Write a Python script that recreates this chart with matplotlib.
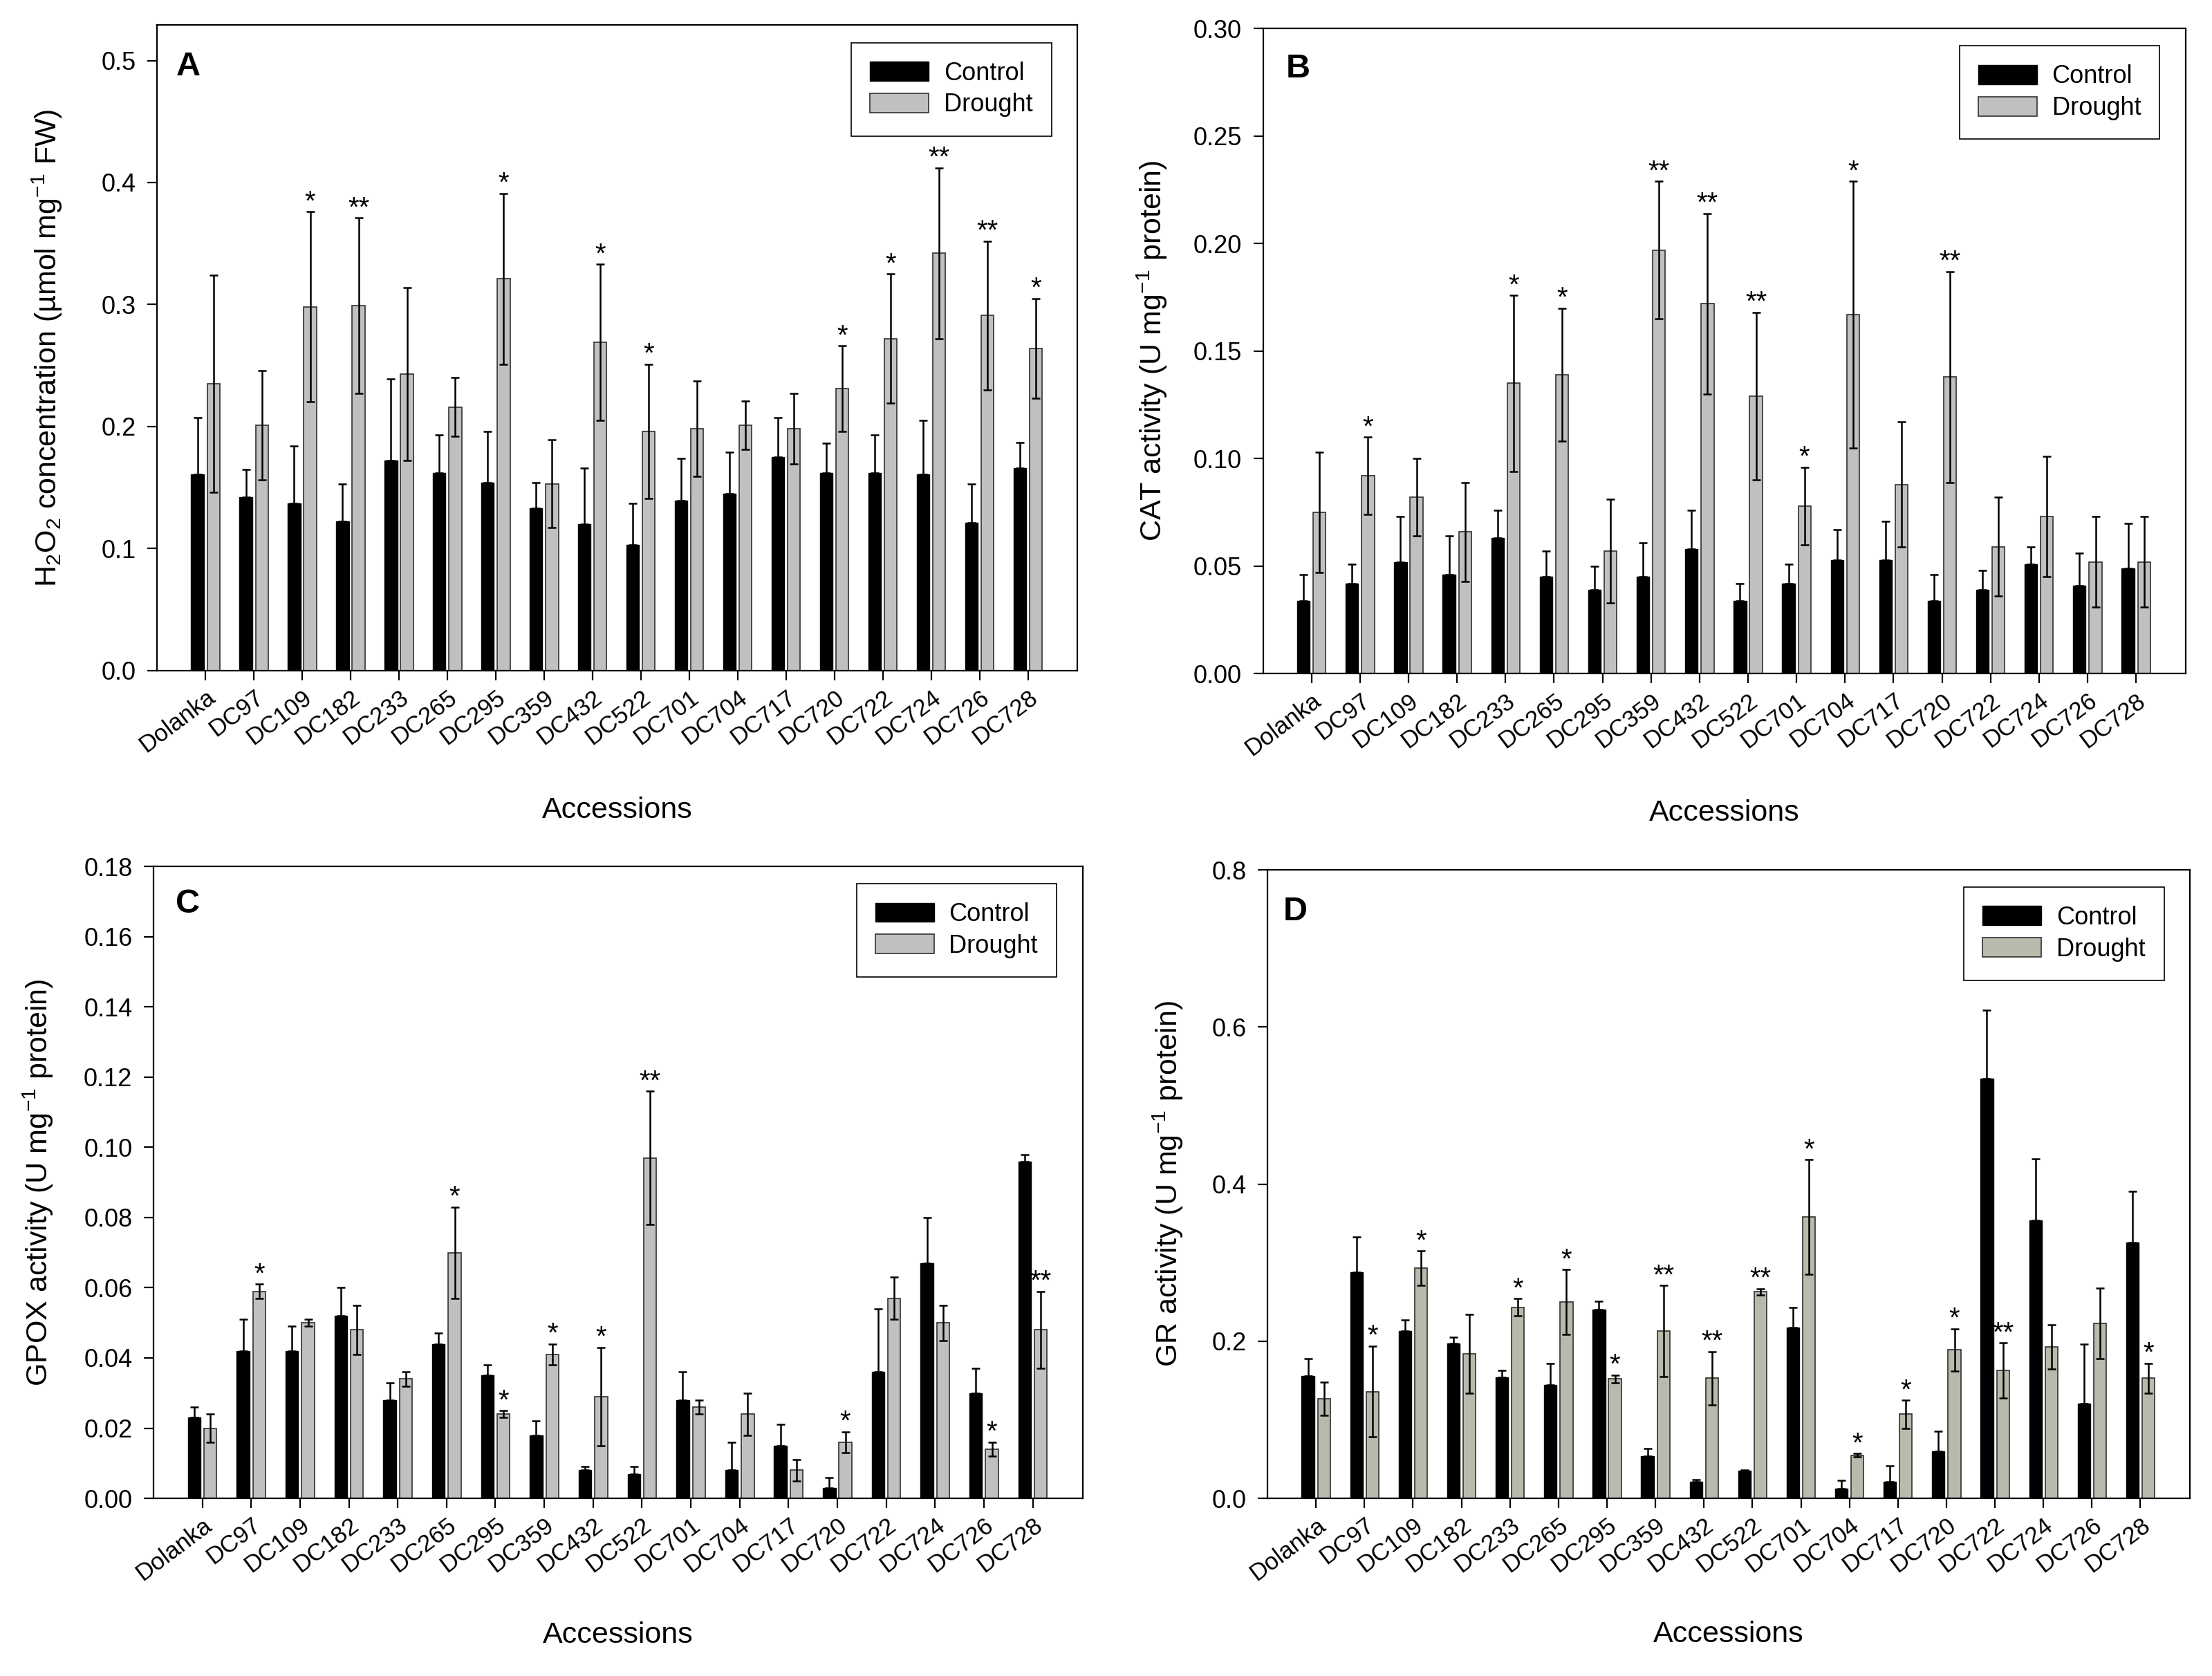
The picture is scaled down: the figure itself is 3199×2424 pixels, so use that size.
import numpy as np
import matplotlib
matplotlib.use('Agg')
from matplotlib import pyplot as plt

plt.rcParams['font.family'] = ['Liberation Sans', 'DejaVu Sans']
plt.rcParams['mathtext.fontset'] = 'custom'
plt.rcParams['mathtext.rm'] = 'Liberation Sans'
plt.rcParams['mathtext.it'] = 'Liberation Sans:italic'
plt.rcParams['mathtext.bf'] = 'Liberation Sans:bold'

# ---------------------------------------------------------------- data
accessions = ['Dolanka', 'DC97', 'DC109', 'DC182', 'DC233', 'DC265', 'DC295', 'DC359', 'DC432',
              'DC522', 'DC701', 'DC704', 'DC717', 'DC720', 'DC722', 'DC724', 'DC726', 'DC728']

# A - H2O2
h2o2_ctrl = [0.161, 0.142, 0.137, 0.122, 0.172, 0.162, 0.154, 0.133, 0.120,
             0.103, 0.139, 0.145, 0.175, 0.162, 0.162, 0.161, 0.121, 0.166]
h2o2_ctrl_err = [0.046, 0.023, 0.047, 0.031, 0.067, 0.031, 0.042, 0.021, 0.046,
                 0.034, 0.035, 0.034, 0.032, 0.024, 0.031, 0.044, 0.032, 0.021]
h2o2_drt = [0.235, 0.201, 0.298, 0.299, 0.243, 0.216, 0.321, 0.153, 0.269,
            0.196, 0.198, 0.201, 0.198, 0.231, 0.272, 0.342, 0.291, 0.264]
h2o2_drt_err = [0.089, 0.045, 0.078, 0.072, 0.071, 0.024, 0.070, 0.036, 0.064,
                0.055, 0.039, 0.020, 0.029, 0.035, 0.053, 0.070, 0.061, 0.041]
h2o2_sig = ['', '', '*', '**', '', '', '*', '', '*', '*', '', '', '', '*', '*', '**', '**', '*']

# B - CAT
cat_ctrl = [0.034, 0.042, 0.052, 0.046, 0.063, 0.045, 0.039, 0.045, 0.058,
            0.034, 0.042, 0.053, 0.053, 0.034, 0.039, 0.051, 0.041, 0.049]
cat_ctrl_err = [0.012, 0.009, 0.021, 0.018, 0.013, 0.012, 0.011, 0.016, 0.018,
                0.008, 0.009, 0.014, 0.018, 0.012, 0.009, 0.008, 0.015, 0.021]
cat_drt = [0.075, 0.092, 0.082, 0.066, 0.135, 0.139, 0.057, 0.197, 0.172,
           0.129, 0.078, 0.167, 0.088, 0.138, 0.059, 0.073, 0.052, 0.052]
cat_drt_err = [0.028, 0.018, 0.018, 0.023, 0.041, 0.031, 0.024, 0.032, 0.042,
               0.039, 0.018, 0.062, 0.029, 0.049, 0.023, 0.028, 0.021, 0.021]
cat_sig = ['', '*', '', '', '*', '*', '', '**', '**', '**', '*', '*', '', '**', '', '', '', '']

# C - GPOX
gpox_ctrl = [0.023, 0.042, 0.042, 0.052, 0.028, 0.044, 0.035, 0.018, 0.008,
             0.007, 0.028, 0.008, 0.015, 0.003, 0.036, 0.067, 0.030, 0.096]
gpox_ctrl_err = [0.003, 0.009, 0.007, 0.008, 0.005, 0.003, 0.003, 0.004, 0.001,
                 0.002, 0.008, 0.008, 0.006, 0.003, 0.018, 0.013, 0.007, 0.002]
gpox_drt = [0.020, 0.059, 0.050, 0.048, 0.034, 0.070, 0.024, 0.041, 0.029,
            0.097, 0.026, 0.024, 0.008, 0.016, 0.057, 0.050, 0.014, 0.048]
gpox_drt_err = [0.004, 0.002, 0.001, 0.007, 0.002, 0.013, 0.001, 0.003, 0.014,
                0.019, 0.002, 0.006, 0.003, 0.003, 0.006, 0.005, 0.002, 0.011]
gpox_sig = ['', '*', '', '', '', '*', '*', '*', '*', '**', '', '', '', '*', '', '', '*', '**']

# D - GR
gr_ctrl = [0.156, 0.288, 0.213, 0.197, 0.154, 0.144, 0.240, 0.054, 0.021,
           0.035, 0.217, 0.012, 0.021, 0.060, 0.534, 0.354, 0.121, 0.326]
gr_ctrl_err = [0.022, 0.045, 0.014, 0.008, 0.009, 0.028, 0.011, 0.009, 0.003,
               0.001, 0.026, 0.011, 0.020, 0.025, 0.087, 0.078, 0.075, 0.065]
gr_drt = [0.127, 0.136, 0.293, 0.184, 0.243, 0.250, 0.152, 0.213, 0.153,
          0.263, 0.358, 0.055, 0.107, 0.189, 0.163, 0.193, 0.223, 0.153]
gr_drt_err = [0.021, 0.058, 0.022, 0.050, 0.011, 0.041, 0.005, 0.058, 0.034,
              0.004, 0.073, 0.002, 0.018, 0.027, 0.035, 0.028, 0.045, 0.019]
gr_sig = ['', '*', '*', '', '*', '*', '*', '**', '**', '**', '*', '*', '*', '*', '**', '', '', '*']


# ---------------------------------------------------------------- rysowanie
def panel(ax, ctrl, ctrl_err, drt, drt_err, sig, ylab, yticks, yfmt, ytop, letter,
          letter_pos, ylab_x, drt_color='#c0c0c0'):
    x = np.arange(len(accessions))
    w = 0.26
    off = 0.165
    ax.bar(x - off, ctrl, w, color='black', edgecolor='black', linewidth=1, zorder=2)
    ax.bar(x + off, drt, w, color=drt_color, edgecolor='#303030', linewidth=1.2, zorder=2)
    ax.errorbar(x - off, ctrl, yerr=[np.zeros(len(ctrl)), ctrl_err], fmt='none',
                ecolor='black', elinewidth=1.8, capsize=4, capthick=1.8, zorder=3)
    ax.errorbar(x + off, drt, yerr=drt_err, fmt='none',
                ecolor='black', elinewidth=1.8, capsize=4, capthick=1.8, zorder=3)
    for xi, v, e, s in zip(x, drt, drt_err, sig):
        if s:
            ax.annotate(s, (xi + off, v + e), xytext=(0, 2), textcoords='offset points',
                        ha='center', va='baseline', fontsize=29)

    ax.set_xlim(-1, 18.02)
    ax.set_ylim(0, ytop)
    ax.set_xticks(x)
    ax.set_xticklabels(accessions, rotation=37, ha='right', rotation_mode='anchor', fontsize=25)
    ax.set_yticks(yticks)
    ax.set_yticklabels([yfmt % t for t in yticks], fontsize=26)
    ax.tick_params(axis='both', direction='out', length=10, width=1.6, top=False, right=False)
    ax.tick_params(axis='y', pad=12)
    ax.tick_params(axis='x', pad=6)
    for sp in ax.spines.values():
        sp.set_linewidth(1.6)

    ax.set_ylabel(ylab, fontsize=31)
    ax.yaxis.set_label_coords(ylab_x, 0.5)
    ax.set_xlabel('Accessions', fontsize=31)
    ax.xaxis.set_label_coords(0.5, -0.195)

    ax.text(letter_pos[0], letter_pos[1], letter, transform=ax.transAxes, fontsize=35,
            fontweight='bold', ha='left', va='center')

    leg = ax.legend(['Control', 'Drought'], loc='upper right', bbox_to_anchor=(0.972, 0.973),
                    borderaxespad=0, fontsize=26, fancybox=False, framealpha=1,
                    edgecolor='black', handlelength=2.35, handleheight=0.8,
                    handletextpad=0.6, labelspacing=0.3, borderpad=0.75)
    leg.get_frame().set_linewidth(1.2)


fig = plt.figure(figsize=(31.99, 24.24), dpi=100)

ax_a = fig.add_axes([0.071, 0.600, 0.416, 0.385])
ax_b = fig.add_axes([0.571, 0.598, 0.417, 0.385])
ax_c = fig.add_axes([0.0694, 0.106, 0.420, 0.377])
ax_d = fig.add_axes([0.573, 0.106, 0.417, 0.375])

panel(ax_a, h2o2_ctrl, h2o2_ctrl_err, h2o2_drt, h2o2_drt_err, h2o2_sig,
      r'H$_2$O$_2$ concentration (µmol mg$^{-1}$ FW)',
      np.arange(0, 0.51, 0.1), '%.1f', 0.529, 'A', (0.021, 0.936), -0.101)
panel(ax_b, cat_ctrl, cat_ctrl_err, cat_drt, cat_drt_err, cat_sig,
      r'CAT activity (U mg$^{-1}$ protein)',
      np.arange(0, 0.301, 0.05), '%.2f', 0.30, 'B', (0.025, 0.938), -0.102)
panel(ax_c, gpox_ctrl, gpox_ctrl_err, gpox_drt, gpox_drt_err, gpox_sig,
      r'GPOX activity (U mg$^{-1}$ protein)',
      np.arange(0, 0.181, 0.02), '%.2f', 0.18, 'C', (0.024, 0.941), -0.106)
panel(ax_d, gr_ctrl, gr_ctrl_err, gr_drt, gr_drt_err, gr_sig,
      r'GR activity (U mg$^{-1}$ protein)',
      np.arange(0, 0.81, 0.2), '%.1f', 0.8, 'D', (0.017, 0.934), -0.089,
      drt_color='#b9baab')

fig.savefig('out.png', dpi=100)
